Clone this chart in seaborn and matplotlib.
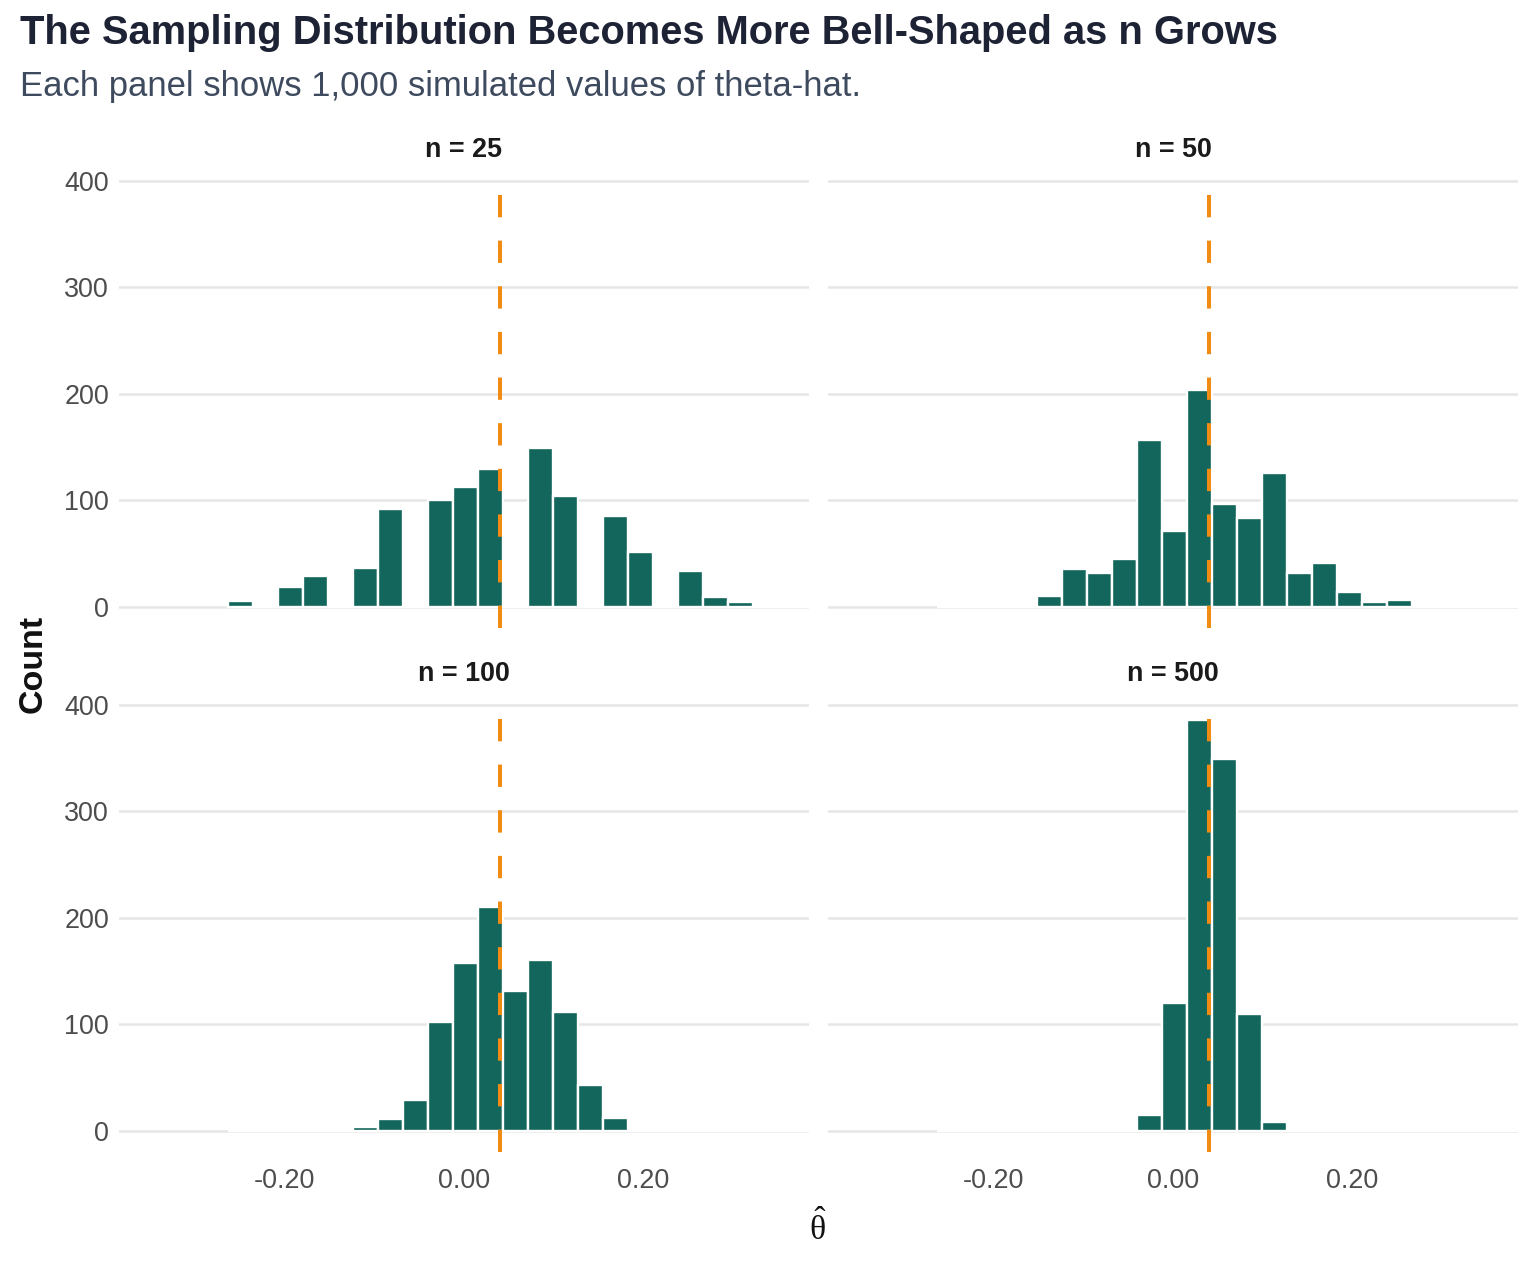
import numpy as np
import pandas as pd
import matplotlib
matplotlib.use("Agg")
import matplotlib.pyplot as plt
import seaborn as sns

# ---------------- data ----------------
panel_titles = ["n = 25", "n = 50", "n = 100", "n = 500"]
bin_start = -0.2631
bin_width = 0.02787
n_bins = 30
true_theta = 0.04

counts_n25 = [6, 0, 19, 29, 0, 37, 92, 0, 100, 113, 130, 0, 149, 104, 0,
              85, 52, 0, 34, 9, 5, 0, 2, 0, 0, 0, 0, 0, 0, 0]
counts_n50 = [0, 0, 0, 2, 10, 36, 32, 45, 157, 71, 204, 97, 84, 126, 32,
              41, 14, 5, 7, 0, 0, 0, 0, 0, 0, 0, 0, 0, 0, 0]
counts_n100 = [0, 0, 0, 0, 1, 4, 11, 29, 102, 158, 210, 131, 161, 112, 43,
               12, 0, 0, 0, 0, 0, 0, 0, 0, 0, 0, 0, 0, 0, 0]
counts_n500 = [0, 0, 0, 0, 0, 0, 0, 0, 15, 120, 386, 349, 110, 8, 0,
               0, 0, 0, 0, 0, 0, 0, 0, 0, 0, 0, 0, 0, 0, 0]
all_counts = [counts_n25, counts_n50, counts_n100, counts_n500]

x_ticks = [-0.20, 0.00, 0.20]
x_tick_labels = ["-0.20", "0.00", "0.20"]
y_ticks = [0, 100, 200, 300, 400]
y_tick_labels = ["0", "100", "200", "300", "400"]

title = "The Sampling Distribution Becomes More Bell-Shaped as n Grows"
subtitle = "Each panel shows 1,000 simulated values of theta-hat."

# ---------------- style ----------------
BAR = "#13665C"
ORANGE = "#F08C14"
GRID = "#E6E6E6"

sns.set_theme(style="white")
plt.rcParams["font.family"] = ["Liberation Sans", "DejaVu Sans"]
plt.rcParams["mathtext.fontset"] = "custom"
plt.rcParams["mathtext.rm"] = "Liberation Serif"
plt.rcParams["mathtext.it"] = "Liberation Serif:italic"
plt.rcParams["mathtext.bf"] = "Liberation Serif:bold"

W, H = 1536, 1267
fig = plt.figure(figsize=(W / 100, H / 100), dpi=100)
fig.patch.set_facecolor("white")


def rect(l, t, r, b):
    return [l / W, 1 - b / H, (r - l) / W, (b - t) / H]


boxes = [
    rect(118.6, 175.35, 809.0, 627.55),
    rect(828.0, 175.35, 1518.4, 627.55),
    rect(118.6, 699.35, 809.0, 1151.55),
    rect(828.0, 699.35, 1518.4, 1151.55),
]

edges = [bin_start + bin_width * k for k in range(n_bins + 1)]
centers = [(edges[k] + edges[k + 1]) / 2 for k in range(n_bins)]
ymax = max(max(c) for c in all_counts)
ypad = 0.05 * ymax

for i, (box, counts, ttl) in enumerate(zip(boxes, all_counts, panel_titles)):
    ax = fig.add_axes(box)
    ax.set_facecolor("white")
    df = pd.DataFrame({"theta": centers, "count": counts})
    sns.histplot(data=df, x="theta", weights="count", bins=edges, ax=ax,
                 color=BAR, edgecolor="white", linewidth=1.7, alpha=1,
                 zorder=2)
    ax.axvline(true_theta, color=ORANGE, lw=2.9,
               linestyle=(0, (5.54, 5.79)), zorder=3)
    ax.set_xlim(-0.3848, 0.3848)
    ax.set_ylim(-ypad, ymax + ypad)
    ax.set_axisbelow(True)
    for s in ax.spines.values():
        s.set_visible(False)
    ax.set_yticks(y_ticks)
    ax.yaxis.grid(True, color=GRID, lw=1.8)
    ax.xaxis.grid(False)
    ax.set_xticks(x_ticks)
    ax.tick_params(length=0, labelsize=19.4, labelcolor="#4D4D4D")
    ax.tick_params(axis="x", pad=12)
    ax.tick_params(axis="y", pad=7)
    if i in (0, 2):
        ax.set_yticklabels(y_tick_labels)
    else:
        ax.set_yticklabels([])
    if i in (2, 3):
        ax.set_xticklabels(x_tick_labels)
    else:
        ax.set_xticklabels([])
    ax.set_xlabel("")
    ax.set_ylabel("")
    ax.text(0.5, 1.0 + 25.5 / 452.2, ttl, transform=ax.transAxes,
            ha="center", va="center", fontsize=19.4, fontweight="bold",
            color="#1A1A1A")

fig.text(20 / W, 1 - 44 / H, title, ha="left", va="baseline",
         fontsize=28.7, fontweight="bold", color="#1E2235")
fig.text(20 / W, 1 - 96 / H, subtitle, ha="left", va="baseline",
         fontsize=24.95, color="#3E4A5E")
fig.text(33 / W, 1 - 663.5 / H, "Count", rotation=90, ha="center",
         va="center", fontsize=24.5, fontweight="bold", color="#111111")
fig.text(818 / W, 1 - 1228 / H, r"$\hat{\mathrm{\theta}}$", ha="center",
         va="center", fontsize=24.3, color="#111111")

fig.savefig("out.png", dpi=100, facecolor="white")
